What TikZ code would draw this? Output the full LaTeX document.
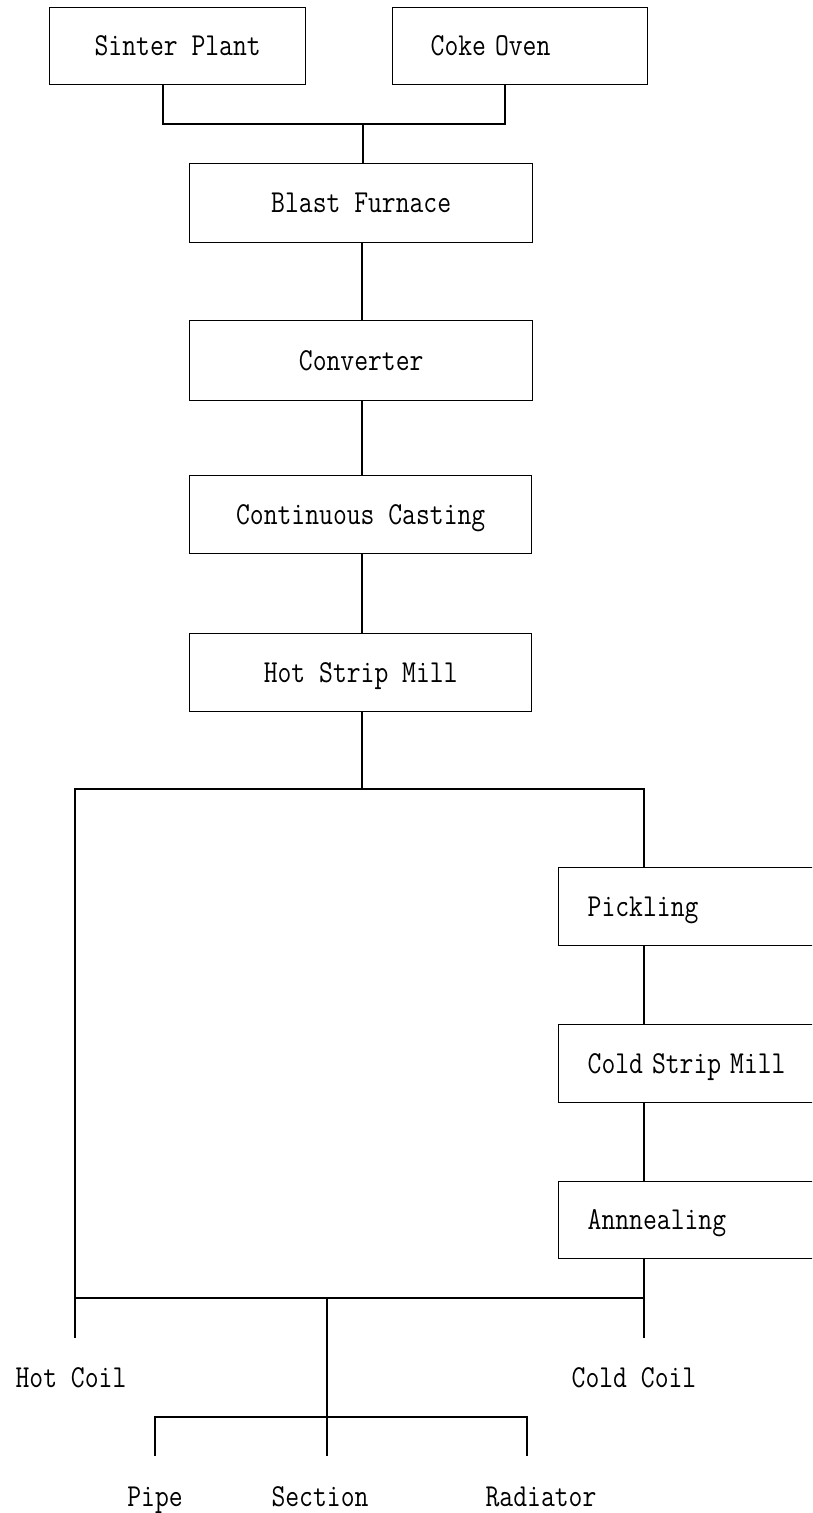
\documentclass[tikz,border=0pt]{standalone}
\usepackage{graphicx}
\newcommand{\tw}[1]{\scalebox{0.84}[1]{#1}}
\begin{document}
\begin{tikzpicture}[x=1pt,y=-1pt,
  txt/.style={font=\ttfamily\fontsize{32}{36}\selectfont,text height=19pt,text depth=0pt},
  box/.style={txt,draw,line width=1.4pt,rectangle,anchor=north west,inner sep=0pt},
  lbl/.style={txt,inner sep=0pt},
  conn/.style={line width=1.4pt}]
\useasboundingbox (0,0) rectangle (812,1513);
\clip (0,0) rectangle (812,1513);
% boxes
\node[box,minimum width=256pt,minimum height=77pt] (sinter) at (49,7) {\tw{Sinter Plant}};
\node[box,minimum height=77pt,inner xsep=38pt,text width=179pt,align=left] (coke) at (392,7) {\tw{Coke Oven}};
\node[box,minimum width=343pt,minimum height=79pt] (blast) at (189,163) {\tw{Blast Furnace}};
\node[box,minimum width=343pt,minimum height=80pt] (conv) at (189,320) {\tw{Converter}};
\node[box,minimum width=342pt,minimum height=78pt] (cast) at (189,475) {\tw{Continuous Casting}};
\node[box,minimum width=342pt,minimum height=78pt] (hsm) at (189,633) {\tw{Hot Strip Mill}};
\node[box,minimum height=78pt,inner xsep=29pt,text width=214pt,align=left] (pick) at (558,867) {\tw{Pickling}};
\node[box,minimum height=78pt,inner xsep=29pt,text width=214pt,align=left] (csm) at (558,1024) {\tw{Cold Strip Mill}};
\node[box,minimum height=77pt,inner xsep=29pt,text width=214pt,align=left] (anneal) at (558,1181) {\tw{Annnealing}};
% labels
\node[lbl] (hotcoil) at (71,1378) {\tw{Hot Coil}};
\node[lbl] (coldcoil) at (634,1378) {\tw{Cold Coil}};
\node[lbl] (pipe) at (155,1497) {\tw{Pipe}};
\node[lbl] (section) at (320,1497) {\tw{Section}};
\node[lbl] (radiator) at (541,1497) {\tw{Radiator}};
% coordinates
\coordinate (jl) at (163,124);
\coordinate (jr) at (505,124);
\coordinate (jm) at (363,124);
\coordinate (sp) at (362,400);
\coordinate (hl) at (75,789);
\coordinate (hr) at (644,789);
\coordinate (hm) at (362,789);
\coordinate (hlend) at (75,1338);
\coordinate (hrend) at (644,1338);
\coordinate (bl) at (75,1298);
\coordinate (br) at (644,1298);
\coordinate (bm) at (327,1298);
\coordinate (bmend) at (327,1456);
\coordinate (pl) at (155,1417);
\coordinate (pr) at (527,1417);
\coordinate (plend) at (155,1456);
\coordinate (prend) at (527,1456);
% connectors
\draw[conn] (sinter.south -| jl) -- (jl) -- (jr) -- (coke.south -| jr);
\draw[conn] (jm) -- (blast.north -| jm);
\draw[conn] (blast.south -| sp) -- (conv.north -| sp);
\draw[conn] (conv.south -| sp) -- (cast.north -| sp);
\draw[conn] (cast.south -| sp) -- (hsm.north -| sp);
\draw[conn] (hsm.south -| hm) -- (hm);
\draw[conn] (hlend) -- (hl) -- (hr) -- (pick.north -| hr);
\draw[conn] (pick.south -| hr) -- (csm.north -| hr);
\draw[conn] (csm.south -| hr) -- (anneal.north -| hr);
\draw[conn] (anneal.south -| hr) -- (hrend);
\draw[conn] (bl) -- (br);
\draw[conn] (bm) -- (bmend);
\draw[conn] (plend) -- (pl) -- (pr) -- (prend);
\end{tikzpicture}
\end{document}
